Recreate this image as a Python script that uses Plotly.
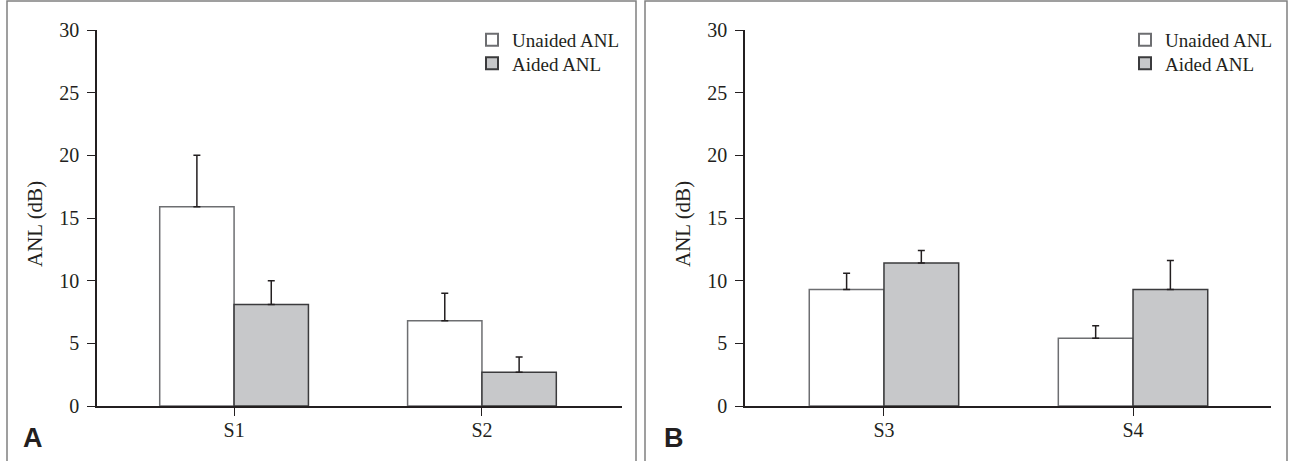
import plotly.graph_objects as go
from plotly.subplots import make_subplots

# ---- data ----
cats_a = ["S1", "S2"]
unaided_a = [15.9, 6.8]
unaided_a_err = [4.1, 2.2]
aided_a = [8.1, 2.7]
aided_a_err = [1.9, 1.2]

cats_b = ["S3", "S4"]
unaided_b = [9.3, 5.4]
unaided_b_err = [1.3, 1.0]
aided_b = [11.4, 9.3]
aided_b_err = [1.0, 2.3]

y_ticks = [0, 5, 10, 15, 20, 25, 30]
series_names = ["Unaided ANL", "Aided ANL"]
panel_letters = ["A", "B"]
y_title = "ANL (dB)"

# ---- styles ----
W, H = 1290, 461
TXT = "#231f20"
FONT = "Liberation Serif"
FS = 19
FS_TICK = 20
FS_TITLE = 21
fill_colors = ["#ffffff", "#c7c8ca"]
line_colors = ["#6d6e71", "#3b3b3d"]

fig = make_subplots(rows=1, cols=2)

panels = [
    (cats_a, [unaided_a, aided_a], [unaided_a_err, aided_a_err], 1, ["legend", "legend2"]),
    (cats_b, [unaided_b, aided_b], [unaided_b_err, aided_b_err], 2, ["legend3", "legend4"]),
]

for cats, vals, errs, col, legs in panels:
    xs = list(range(len(cats)))
    for i in range(2):
        fig.add_trace(
            go.Bar(
                x=xs,
                y=vals[i],
                name=series_names[i],
                marker=dict(color=fill_colors[i],
                            line=dict(color=line_colors[i], width=1.5)),
                error_y=dict(type="data", array=errs[i], symmetric=False,
                             arrayminus=[0] * len(cats),
                             color=TXT, thickness=1.5, width=3.5),
                legend=legs[i],
                showlegend=True,
            ),
            row=1, col=col,
        )

doms = [(97 / W, 622 / W), (745 / W, 1271 / W)]
ydom = ((H - 406) / H, (H - 30) / H)
xranges = [[-0.553, 1.565], [-0.558, 1.554]]

for k, (cats, _, _, col, _) in enumerate(panels):
    xa = "xaxis" if col == 1 else "xaxis2"
    ya = "yaxis" if col == 1 else "yaxis2"
    fig.layout[xa].update(
        domain=list(doms[k]), range=xranges[k], automargin=False,
        tickmode="array", tickvals=list(range(len(cats))), ticktext=cats,
        showline=True, linecolor=TXT, linewidth=1.5,
        ticks="outside", ticklen=8, tickwidth=1.2, tickcolor=TXT,
        showgrid=False, zeroline=False,
        tickfont=dict(family=FONT, size=FS_TICK, color=TXT),
        ticklabelstandoff=-3,
    )
    fig.layout[ya].update(
        domain=list(ydom), range=[0, 30], automargin=False,
        tickmode="array", tickvals=y_ticks,
        showline=True, linecolor=TXT, linewidth=1.5,
        ticks="outside", ticklen=8, tickwidth=1.2, tickcolor=TXT,
        showgrid=False, zeroline=False,
        tickfont=dict(family=FONT, size=FS_TICK, color=TXT),
        ticklabelstandoff=4,
    )

# y-axis titles
for xpx in [35, 683]:
    fig.add_annotation(text=y_title, xref="paper", yref="paper",
                       x=xpx / W, y=(H - 224) / H, showarrow=False,
                       textangle=-90, xanchor="center", yanchor="middle",
                       font=dict(family=FONT, size=FS_TITLE, color=TXT))

# panel frames
frames = [(7, 636), (645, 1287)]
for (x0, x1) in frames:
    fig.add_shape(type="rect", xref="paper", yref="paper",
                  x0=x0 / W, x1=x1 / W, y0=-0.01, y1=(H - 1) / H,
                  line=dict(color="#808080", width=1.5), fillcolor="rgba(0,0,0,0)",
                  layer="below")

# panel letters
for letter, xpx in zip(panel_letters, [33, 674]):
    fig.add_annotation(text="<b>%s</b>" % letter, xref="paper", yref="paper",
                       x=xpx / W, y=(H - 438) / H, showarrow=False,
                       xanchor="center", yanchor="middle",
                       font=dict(family="Liberation Sans", size=27, color=TXT))

leg_common = dict(
    xanchor="left", yanchor="middle",
    font=dict(family=FONT, size=FS, color=TXT),
    bgcolor="rgba(0,0,0,0)", borderwidth=0,
    tracegroupgap=0, itemsizing="constant",
)
row_y = [40, 63.5]
fig.update_layout(
    width=W, height=H,
    margin=dict(l=0, r=0, t=0, b=0, autoexpand=False),
    paper_bgcolor="white", plot_bgcolor="white",
    barmode="group", bargap=0.4, bargroupgap=0,
    legend=dict(x=472 / W, y=(H - row_y[0]) / H, **leg_common),
    legend2=dict(x=472 / W, y=(H - row_y[1]) / H, **leg_common),
    legend3=dict(x=1125 / W, y=(H - row_y[0]) / H, **leg_common),
    legend4=dict(x=1125 / W, y=(H - row_y[1]) / H, **leg_common),
    showlegend=True,
)

fig.write_html(
    "out.html",
    config={"displayModeBar": False},
    post_script="document.body.style.margin='0';document.body.style.overflow='hidden';",
)
